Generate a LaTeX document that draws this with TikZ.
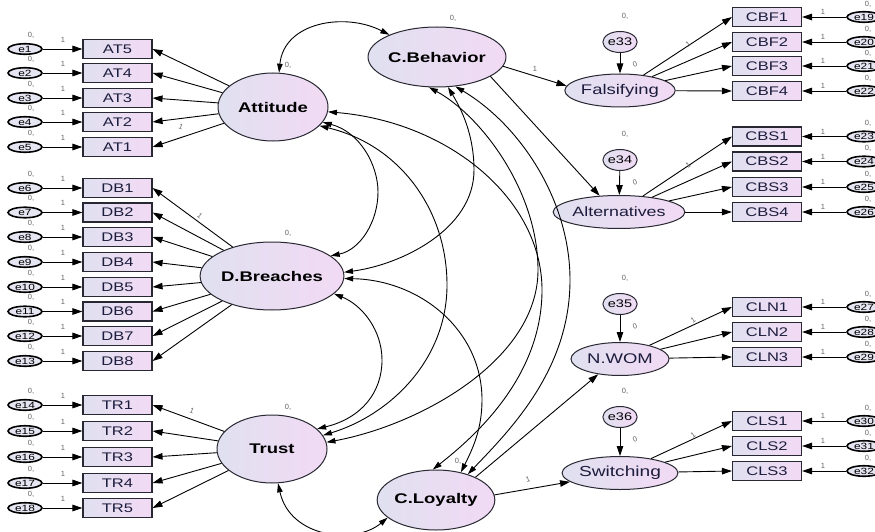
\documentclass[tikz,border=0pt]{standalone}
\usepackage{fontspec}
\setmainfont{Liberation Sans}
\newfontfamily\widefont[FakeStretch=1.32]{Liberation Sans}
\usetikzlibrary{arrows.meta,shapes.geometric}

\definecolor{fillL}{RGB}{224,224,240}
\definecolor{fillR}{RGB}{242,218,244}
\definecolor{edgecol}{RGB}{40,40,50}
\definecolor{lblcol}{RGB}{100,100,100}
\definecolor{inkcol}{RGB}{28,28,60}

\begin{document}
\begin{tikzpicture}[x=1pt,y=-1pt,
  arr/.style={-{Triangle[length=10pt,width=6.5pt]}, line width=0.9pt},
  cov/.style={{Triangle[length=9pt,width=5.5pt]}-{Triangle[length=9pt,width=5.5pt]}, line width=0.9pt},
  obs/.style={rectangle, draw=edgecol, line width=1.1pt, left color=fillL, right color=fillR,
    minimum width=69pt, minimum height=19pt, inner sep=0pt, text=inkcol,
    font=\widefont\fontsize{12.5}{12.5}\selectfont},
  lat/.style={ellipse, draw=edgecol, line width=1pt, left color=fillL, right color=fillR,
    inner sep=0pt, minimum width=110pt, minimum height=68pt, text=black,
    font=\widefont\bfseries\fontsize{14}{14}\selectfont},
  endo/.style={ellipse, draw=edgecol, line width=1pt, left color=fillL, right color=fillR,
    inner sep=0pt, minimum width=98pt, minimum height=33pt, text=inkcol,
    font=\widefont\fontsize{14}{14}\selectfont},
  err/.style={ellipse, draw=black, line width=1.6pt, fill=fillL!80!white,
    inner sep=0pt, minimum width=34pt, minimum height=10.5pt, text=black,
    font=\widefont\fontsize{9}{9}\selectfont},
  dist/.style={ellipse, draw=edgecol, line width=1pt, left color=fillL, right color=fillR,
    inner sep=0pt, minimum width=32pt, minimum height=21pt, text=black,
    font=\widefont\fontsize{11}{11}\selectfont},
  tiny/.style={text=lblcol, inner sep=0pt, font=\fontsize{7.5}{7.5}\selectfont}]

\fill[white] (0,0) rectangle (875,532);
\useasboundingbox (0,0) rectangle (875,532);

% latent constructs
\node[lat] (att) at (273,107) {Attitude};
\node[lat, minimum height=60pt] (cb) at (437,57) {C.Behavior};
\node[lat] (db) at (272,276) {D.Breaches};
\node[lat] (tr) at (272,449) {Trust};
\node[lat, minimum width=112pt, minimum height=60pt] (cl) at (436,500) {C.Loyalty};

\node[endo] (fals) at (620,90.5) {Falsifying};
\node[endo, font=\widefont\fontsize{13.5}{13.5}\selectfont] (alt) at (619,212) {Alternatives};
\node[endo] (nwom) at (620,359) {N.WOM};
\node[endo, font=\widefont\fontsize{14.5}{14.5}\selectfont] (sw) at (620,473) {Switching};

% variance labels of the latent constructs
\node[tiny] at (288,65) {0,};
\node[tiny] at (453,18) {0,};
\node[tiny] at (288,233) {0,};
\node[tiny] at (288,407) {0,};
\node[tiny] at (458,461) {0,};

% disturbances
\foreach \d/\tgt/\y in {e33/fals/42, e34/alt/160, e35/nwom/304, e36/sw/417} {
  \node[dist] (\d) at (620,\y) {\d};
  \node[tiny] at (625,\y-26) {0,};
  \node[tiny, rotate=20] at (635,\y+22) {0};
  \draw[arr] (\d) -- (\tgt);
}

% left indicators
\foreach \n/\y [count=\i] in {AT5/49,AT4/73,AT3/98,AT2/122,AT1/147} {
  \node[obs] (\n) at (117.5,\y) {\n};
  \node[err] (e\i) at (25,\y) {e\i};
  \draw[arr] (e\i) -- (\n);
  \node[tiny] at (31,\y-14) {0,};
  \node[tiny] at (63,\y-9.5) {1};
  \draw[arr] (att) -- (\n.east);
}
\foreach \n/\y [count=\i from 6] in {DB1/188,DB2/212.5,DB3/237,DB4/262,DB5/287,DB6/311.5,DB7/336,DB8/361} {
  \node[obs] (\n) at (117.5,\y) {\n};
  \node[err] (e\i) at (25,\y) {e\i};
  \draw[arr] (e\i) -- (\n);
  \node[tiny] at (31,\y-14) {0,};
  \node[tiny] at (63,\y-9.5) {1};
  \draw[arr] (db) -- (\n.east);
}
\foreach \n/\y [count=\i from 14] in {TR1/405,TR2/431,TR3/457,TR4/483,TR5/508} {
  \node[obs] (\n) at (117.5,\y) {\n};
  \node[err] (e\i) at (25,\y) {e\i};
  \draw[arr] (e\i) -- (\n);
  \node[tiny] at (31,\y-14) {0,};
  \node[tiny] at (63,\y-9.5) {1};
  \draw[arr] (tr) -- (\n.east);
}
\node[tiny, rotate=-20] at (181,127) {1};
\node[tiny, rotate=-40] at (200,216) {1};
\node[tiny, rotate=-20] at (192,411) {1};

% right indicators
\foreach \n/\y/\src [count=\i from 19] in {CBF1/17/fals,CBF2/42/fals,CBF3/66/fals,CBF4/91/fals,
    CBS1/136.5/alt,CBS2/161.5/alt,CBS3/187/alt,CBS4/212/alt,
    CLN1/307/nwom,CLN2/332/nwom,CLN3/357/nwom,
    CLS1/421/sw,CLS2/446/sw,CLS3/471/sw} {
  \node[obs] (\n) at (767,\y) {\n};
  \node[err] (e\i) at (864,\y) {e\i};
  \draw[arr] (e\i) -- (\n);
  \node[tiny] at (868,\y-13) {0,};
  \node[tiny] at (823,\y-5) {1};
  \draw[arr] (\src) -- (\n.west);
}
\node[tiny, rotate=35] at (688,44) {1};
\node[tiny, rotate=35] at (688,165) {1};
\node[tiny, rotate=35] at (693,320) {1};
\node[tiny, rotate=35] at (693,435) {1};

% structural paths
\draw[arr] (cb.-8) -- (fals.175);
\node[tiny] at (535,69) {1};
\draw[arr] (cb.-20) -- (alt.140);
\draw[arr] (cl.30) -- (nwom.215);
\draw[arr] (cl.5) -- (sw.190);
\node[tiny, rotate=15] at (528,479) {1};

% covariances between the exogenous constructs
\draw[cov] (att.80) .. controls (284,22) and (345,12) .. (cb.155);
\draw[cov] (att.-17) .. controls (360,132) and (378,165) .. (378,192)
  .. controls (378,222) and (360,250) .. (db.19);
\draw[cov] (att.-22) .. controls (400,145) and (447,210) .. (447,285)
  .. controls (447,360) and (390,415) .. (tr.15);
\draw[cov] (att.-5) .. controls (450,122) and (542,200) .. (542,290)
  .. controls (542,380) and (470,440) .. (cl.96);
\draw[cov] (cb.-70) .. controls (465,115) and (474,140) .. (474,170)
  .. controls (474,230) and (400,265) .. (db.3);
\draw[cov] (cb.-105) .. controls (480,115) and (538,190) .. (538,270)
  .. controls (538,360) and (420,425) .. (tr.7);
\draw[cov] (cb.-58) .. controls (520,125) and (570,200) .. (570,280)
  .. controls (570,370) and (510,430) .. (cl.39);
\draw[cov] (db.-16) .. controls (362,305) and (382,330) .. (382,360)
  .. controls (382,392) and (362,418) .. (tr.24);
\draw[cov] (db.-2) .. controls (420,280) and (482,330) .. (482,400)
  .. controls (482,430) and (472,450) .. (cl.48);
\draw[cov] (tr.-80) .. controls (290,538) and (355,545) .. (cl.200);

\end{tikzpicture}
\end{document}
